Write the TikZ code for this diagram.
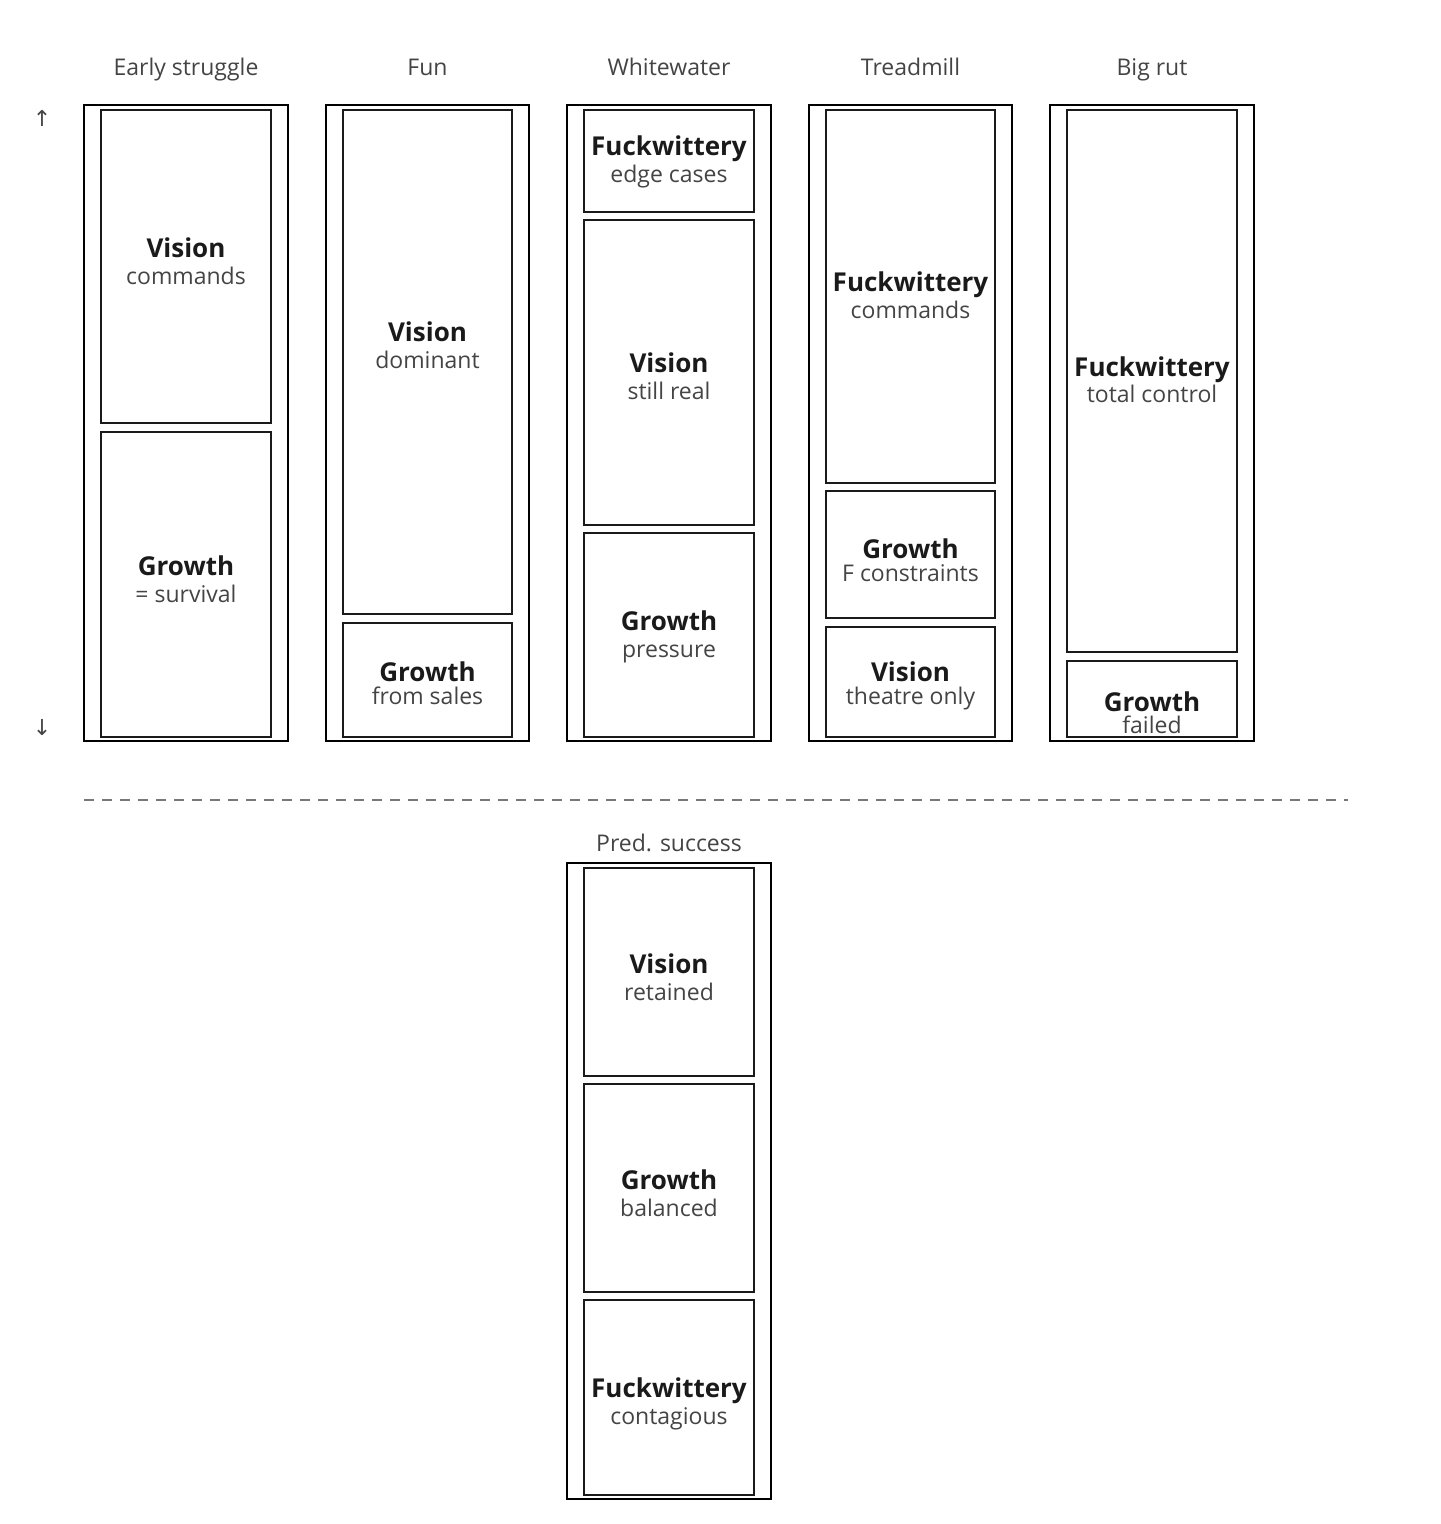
\documentclass[tikz,border=0pt]{standalone}
\usepackage{fontspec}
\setmainfont{Open Sans}
\newfontfamily\symfont{DejaVu Sans}
\usepackage{tikz}
\usetikzlibrary{positioning,calc}
\definecolor{inkdark}{HTML}{1A1A1A}
\definecolor{inkgrey}{HTML}{444444}
\definecolor{rulegrey}{HTML}{777777}

\tikzset{
  outerbox/.style={draw=black, line width=1pt},
  innerbox/.style={draw=inkdark, line width=1pt},
  phase/.style={inner sep=0pt, anchor=base, yshift=-4.5pt, text=inkgrey, font=\fontsize{11.5}{13}\selectfont},
  force/.style={inner sep=0pt, anchor=base, yshift=-5pt, text=inkdark, font=\fontsize{13}{15}\selectfont\bfseries},
  note/.style={inner sep=0pt, anchor=base, yshift=-4.5pt, text=inkgrey, font=\fontsize{11.5}{13}\selectfont},
  axismark/.style={inner sep=0pt, text=inkgrey, font=\symfont\fontsize{11}{12}\selectfont},
}

\begin{document}
\begin{tikzpicture}[x=0.5pt, y=-0.5pt]
            \useasboundingbox (0,0) rectangle (1440,1524);

            % axis marks
            \node[axismark] (up) at (42,118) {↑};
            \node[axismark] (down) at (42,728) {↓};

            % Early struggle
            \node[phase] (es) at (186,67) {Early struggle};
            \draw[outerbox] (84,105) rectangle (288,741);
            \draw[innerbox] (101,110) rectangle (271,423);
            \draw[innerbox] (101,432) rectangle (271,737);
            \node[force] (esv) at (186,248) {Vision};
            \node[note] (esvn) at (186,276) {commands};
            \node[force] (esg) at (186,565) {Growth};
            \node[note] (esgn) at (186,593) {= survival};

            % Fun
            \node[phase] (fun) at (427.5,67) {Fun};
            \draw[outerbox] (326,105) rectangle (529,741);
            \draw[innerbox] (343,110) rectangle (512,614);
            \draw[innerbox] (343,623) rectangle (512,737);
            \node[force] (funv) at (427.5,332) {Vision};
            \node[note] (funvn) at (427.5,359) {dominant};
            \node[force] (fung) at (427.5,671) {Growth};
            \node[note] (fungn) at (427.5,695) {from sales};

            % Whitewater
            \node[phase] (ww) at (669,67) {Whitewater};
            \draw[outerbox] (567,105) rectangle (771,741);
            \draw[innerbox] (584,110) rectangle (754,212);
            \draw[innerbox] (584,220) rectangle (754,525);
            \draw[innerbox] (584,533) rectangle (754,737);
            \node[force] (wwf) at (669,146) {Fuckwittery};
            \node[note] (wwfn) at (669,174) {edge cases};
            \node[force] (wwv) at (669,362) {Vision};
            \node[note] (wwvn) at (669,390) {still real};
            \node[force] (wwg) at (669,620) {Growth};
            \node[note] (wwgn) at (669,648) {pressure};

            % Treadmill
            \node[phase] (tm) at (910.5,67) {Treadmill};
            \draw[outerbox] (809,105) rectangle (1012,741);
            \draw[innerbox] (826,110) rectangle (995,483);
            \draw[innerbox] (826,491) rectangle (995,618);
            \draw[innerbox] (826,627) rectangle (995,737);
            \node[force] (tmf) at (910.5,282) {Fuckwittery};
            \node[note] (tmfn) at (910.5,310) {commands};
            \node[force] (tmg) at (910.5,548) {Growth};
            \node[note] (tmgn) at (910.5,572) {F constraints};
            \node[force] (tmv) at (910.5,671) {Vision};
            \node[note] (tmvn) at (910.5,695) {theatre only};

            % Big rut
            \node[phase] (br) at (1152,67) {Big rut};
            \draw[outerbox] (1050,105) rectangle (1254,741);
            \draw[innerbox] (1067,110) rectangle (1237,652);
            \draw[innerbox] (1067,661) rectangle (1237,737);
            \node[force] (brf) at (1152,366) {Fuckwittery};
            \node[note] (brfn) at (1152,393) {total control};
            \node[force] (brg) at (1152,701) {Growth};
            \node[note] (brgn) at (1152,724) {failed};

            % divider
            \coordinate (dl) at (84,800);
            \coordinate (dr) at (1348,800);
            \draw[rulegrey, line width=0.6pt, dash pattern=on 5pt off 4pt] (dl) -- (dr);

            % Pred. success
            \node[phase] (ps) at (669,842) {Pred. success};
            \draw[outerbox] (567,863) rectangle (771,1499);
            \draw[innerbox] (584,868) rectangle (754,1076);
            \draw[innerbox] (584,1084) rectangle (754,1292);
            \draw[innerbox] (584,1300) rectangle (754,1495);
            \node[force] (psv) at (669,963) {Vision};
            \node[note] (psvn) at (669,991) {retained};
            \node[force] (psg) at (669,1179) {Growth};
            \node[note] (psgn) at (669,1207) {balanced};
            \node[force] (psf) at (669,1387) {Fuckwittery};
            \node[note] (psfn) at (669,1415) {contagious};
\end{tikzpicture}
\end{document}
